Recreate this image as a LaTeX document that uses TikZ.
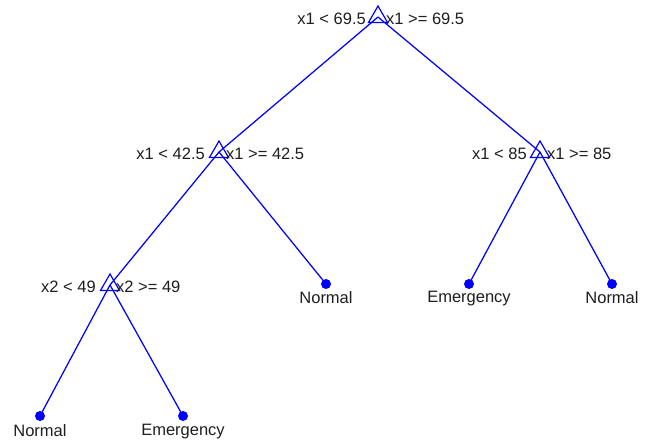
\documentclass[tikz,border=0pt]{standalone}
\usepackage{fontspec}
\setmainfont{Liberation Sans}
\usetikzlibrary{shapes.geometric}
\definecolor{treeblue}{RGB}{0,0,255}
\definecolor{txt}{RGB}{30,30,30}
\begin{document}
\begin{tikzpicture}[x=1pt,y=-1pt,
  splitnode/.style={regular polygon,regular polygon sides=3,draw=treeblue,line width=1.2pt,minimum size=22pt,inner sep=0pt},
  leafnode/.style={circle,fill=treeblue,minimum size=10pt,inner sep=0pt},
  edge/.style={draw=treeblue,line width=1.25pt},
  lbl/.style={font=\fontsize{16.5}{18}\selectfont,text=txt,inner sep=0pt}]
\useasboundingbox (0,0) rectangle (646,443);
% split nodes
\node[splitnode] (r) at (378,17) {};
\node[splitnode] (a) at (219,152) {};
\node[splitnode] (b) at (540,152) {};
\node[splitnode] (c) at (110,285) {};
% leaves
\node[leafnode] (l1) at (326,284) {};
\node[leafnode] (l2) at (469,284) {};
\node[leafnode] (l3) at (612,284) {};
\node[leafnode] (l4) at (40,416) {};
\node[leafnode] (l5) at (183,416) {};
% edges
\draw[edge] (r.center) -- (a.center);
\draw[edge] (r.center) -- (b.center);
\draw[edge] (a.center) -- (c.center);
\draw[edge] (a.center) -- (l1.center);
\draw[edge] (b.center) -- (l2.center);
\draw[edge] (b.center) -- (l3.center);
\draw[edge] (c.center) -- (l4.center);
\draw[edge] (c.center) -- (l5.center);
% split labels
\node[lbl,anchor=east] (rl) at (366,19) {x1 < 69.5};
\node[lbl,anchor=west] (rr) at (386,19) {x1 >= 69.5};
\node[lbl,anchor=east] (al) at (205,154) {x1 < 42.5};
\node[lbl,anchor=west] (ar) at (226,154) {x1 >= 42.5};
\node[lbl,anchor=east] (bl) at (527,154) {x1 < 85};
\node[lbl,anchor=west] (br) at (547,154) {x1 >= 85};
\node[lbl,anchor=east] (cl) at (96,287) {x2 < 49};
\node[lbl,anchor=west] (cr) at (116,287) {x2 >= 49};
% leaf labels
\node[lbl,anchor=north] (t1) at (326,291) {Normal};
\node[lbl,anchor=north] (t2) at (469,291) {Emergency};
\node[lbl,anchor=north] (t3) at (612,291) {Normal};
\node[lbl,anchor=north] (t4) at (40,424) {Normal};
\node[lbl,anchor=north] (t5) at (183,424) {Emergency};
\end{tikzpicture}
\end{document}
